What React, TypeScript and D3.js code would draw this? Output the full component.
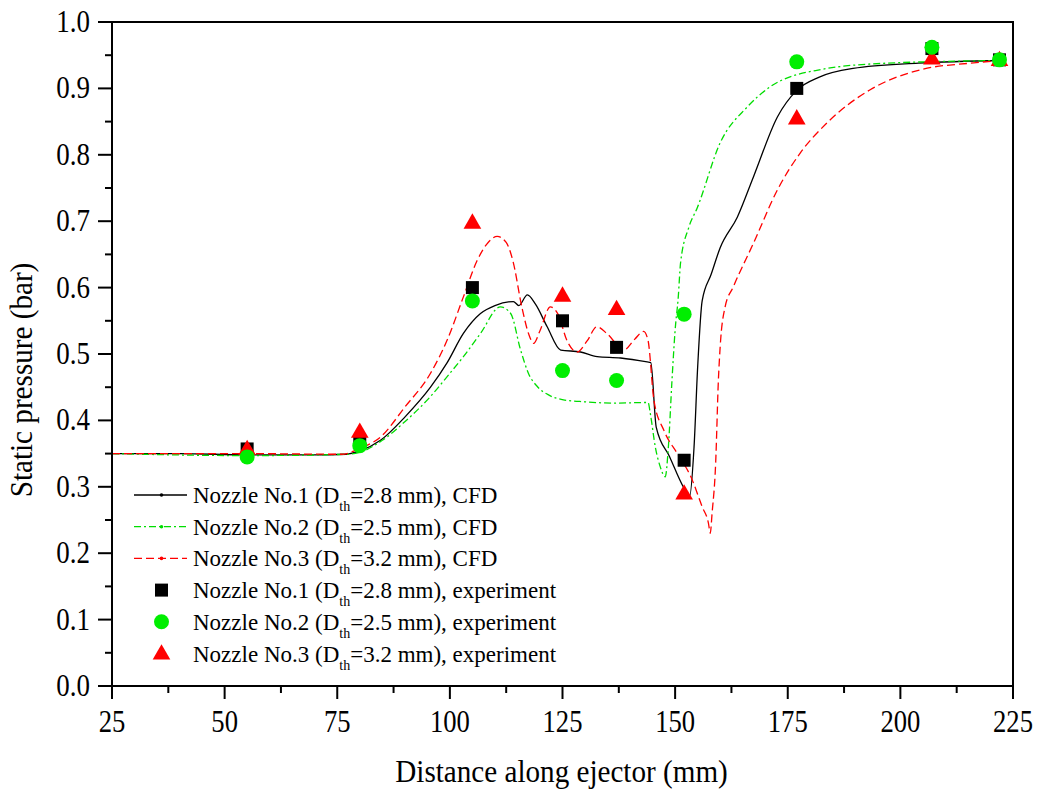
import React from 'react';
import * as d3 from 'd3';

// CFD curves: [distance mm, static pressure bar]
const cfdNozzle1: [number, number][] = [
  [25, 0.350], [40, 0.350], [55, 0.348], [70, 0.348], [77, 0.349], [80, 0.354],
  [84.6, 0.370], [90, 0.405], [95.7, 0.450], [99.4, 0.487], [103, 0.531],
  [106.8, 0.561], [110, 0.573], [114.1, 0.579], [115.3, 0.573], [117.2, 0.589],
  [119, 0.575], [121.6, 0.541], [124.6, 0.506], [129, 0.503], [132.7, 0.496],
  [137.9, 0.494], [143.8, 0.488], [144.6, 0.487], [145.8, 0.390], [148.8, 0.345],
  [151.8, 0.300], [153.2, 0.285], [154.2, 0.360], [155, 0.480], [156, 0.580],
  [158, 0.620], [160, 0.660], [163.8, 0.706], [167.4, 0.767], [172.7, 0.857],
  [177, 0.897], [182, 0.917], [189.5, 0.930], [204, 0.938], [222.8, 0.942],
];

const cfdNozzle2: [number, number][] = [
  [25, 0.350], [55, 0.347], [77, 0.349], [80, 0.352], [85, 0.370], [90, 0.398],
  [95.7, 0.436], [99.4, 0.466], [103, 0.496], [106.8, 0.531], [111.2, 0.571],
  [113.5, 0.561], [115.7, 0.506], [117.5, 0.470], [119.4, 0.451], [122, 0.438],
  [125.2, 0.431], [130, 0.428], [136.3, 0.426], [144, 0.427], [144.5, 0.410],
  [145.6, 0.360], [146.7, 0.330], [147.8, 0.315], [148.5, 0.360], [149.3, 0.460],
  [150, 0.536], [150.7, 0.586], [151.2, 0.637], [153, 0.690], [154.9, 0.720],
  [160, 0.818], [166, 0.872], [171, 0.902], [182, 0.928], [197, 0.938], [222.8, 0.942],
];

const cfdNozzle3: [number, number][] = [
  [25, 0.350], [55, 0.350], [76, 0.349], [80, 0.358], [84.6, 0.375], [90, 0.420],
  [95.7, 0.471], [99.4, 0.521], [103, 0.586], [106, 0.640], [108.5, 0.668],
  [110.5, 0.677], [112.5, 0.668], [114, 0.640], [116, 0.570], [117.5, 0.530],
  [118.6, 0.516], [120, 0.535], [122.3, 0.571], [124, 0.560], [126, 0.520],
  [128.2, 0.503], [130.5, 0.520], [132.6, 0.541], [135, 0.530], [138.6, 0.506],
  [141, 0.522], [143, 0.534], [144, 0.520], [145.3, 0.430], [147.5, 0.385],
  [150.5, 0.350], [153.5, 0.315], [156, 0.270], [157.4, 0.245], [157.8, 0.230],
  [158.2, 0.260], [159, 0.336], [159.6, 0.460], [160, 0.511], [161.1, 0.571],
  [162.9, 0.601], [167.4, 0.667], [172.7, 0.747], [177.8, 0.803], [183.7, 0.848],
  [193.3, 0.898], [204.4, 0.928], [215.5, 0.938], [222.8, 0.942],
];

// experiment points
const expX = [55, 80, 105, 125, 137, 152, 177, 207, 222];
const expNozzle1 = [0.357, 0.367, 0.600, 0.550, 0.510, 0.340, 0.900, 0.960, 0.943];
const expNozzle2 = [0.345, 0.362, 0.580, 0.475, 0.460, 0.560, 0.940, 0.962, 0.943];
const expNozzle3 = [0.357, 0.383, 0.698, 0.588, 0.568, 0.290, 0.855, 0.945, 0.943];

const xTicks = [25, 50, 75, 100, 125, 150, 175, 200, 225];
const yTicks = [0, 0.1, 0.2, 0.3, 0.4, 0.5, 0.6, 0.7, 0.8, 0.9, 1.0];

const legendNames = [
  { d: '2.8', kind: 'CFD' },
  { d: '2.5', kind: 'CFD' },
  { d: '3.2', kind: 'CFD' },
  { d: '2.8', kind: 'experiment' },
  { d: '2.5', kind: 'experiment' },
  { d: '3.2', kind: 'experiment' },
];

const W = 1040, H = 791;
const left = 112, right = 1013, top = 22, bottom = 686;
const font = 'Liberation Serif, Tinos, Times New Roman, serif';

export default function App() {
  const x = d3.scaleLinear().domain([25, 225]).range([left, right]);
  const y = d3.scaleLinear().domain([0, 1]).range([bottom, top]);
  const line = d3.line<[number, number]>()
    .x(d => x(d[0]))
    .y(d => y(d[1]))
    .curve(d3.curveMonotoneX);

  const xMinor = d3.range(37.5, 225, 25);
  const yMinor = d3.range(0.05, 1, 0.1);
  const tri = d3.symbol().type(d3.symbolTriangle).size(135)();

  const styles = [
    { stroke: '#000000', dash: undefined as string | undefined },
    { stroke: '#00dd00', dash: '7,3,2,3' },
    { stroke: '#ff0000', dash: '8,4' },
  ];
  const curves = [cfdNozzle1, cfdNozzle2, cfdNozzle3];
  const txt = { fontFamily: font } as React.CSSProperties;

  return (
    <svg width={W} height={H} style={{ position: 'absolute', left: 0, top: 0, background: '#fff' }}>
      <rect x={0} y={0} width={W} height={H} fill="#fff" />

      {curves.map((c, i) => (
        <path key={i} d={line(c) || ''} fill="none" stroke={styles[i].stroke}
          strokeWidth={1.3} strokeDasharray={styles[i].dash} />
      ))}

      {expX.map((v, i) => (
        <rect key={'s' + i} x={x(v) - 6.5} y={y(expNozzle1[i]) - 6.5} width={13} height={13} fill="#000" />
      ))}
      {expX.map((v, i) => (
        <path key={'t' + i} d={tri || ''} transform={`translate(${x(v)},${y(expNozzle3[i]) + 1})`} fill="#ff0000" />
      ))}
      {expX.map((v, i) => (
        <circle key={'c' + i} cx={x(v)} cy={y(expNozzle2[i])} r={7.5} fill="#00ee00" />
      ))}

      {/* frame */}
      <rect x={left} y={top} width={right - left} height={bottom - top} fill="none" stroke="#000" strokeWidth={2} />

      {/* x axis */}
      {xTicks.map(t => (
        <g key={'xt' + t}>
          <line x1={x(t)} x2={x(t)} y1={bottom} y2={bottom + 13} stroke="#000" strokeWidth={2} />
          <text transform={`translate(${x(t)},${bottom + 46}) scale(0.86,1)`} fontSize={31}
            textAnchor="middle" style={txt}>{t}</text>
        </g>
      ))}
      {xMinor.map(t => (
        <line key={'xm' + t} x1={x(t)} x2={x(t)} y1={bottom} y2={bottom + 7} stroke="#000" strokeWidth={2} />
      ))}
      <text transform={`translate(${(left + right) / 2 - 1},782) scale(0.94,1)`} fontSize={31}
        textAnchor="middle" style={txt}>Distance along ejector (mm)</text>

      {/* y axis */}
      {yTicks.map(t => (
        <g key={'yt' + t}>
          <line x1={left - 14} x2={left} y1={y(t)} y2={y(t)} stroke="#000" strokeWidth={2} />
          <text transform={`translate(${left - 22},${y(t) + 10}) scale(0.87,1)`} fontSize={31}
            textAnchor="end" style={txt}>{t.toFixed(1)}</text>
        </g>
      ))}
      {yMinor.map(t => (
        <line key={'ym' + t} x1={left - 7} x2={left} y1={y(t)} y2={y(t)} stroke="#000" strokeWidth={2} />
      ))}
      <text transform={`translate(32,${(top + bottom) / 2 + 26}) rotate(-90) scale(0.94,1)`} fontSize={31}
        textAnchor="middle" style={txt}>
        Static pressure (bar)
      </text>

      {/* legend */}
      {legendNames.map((l, i) => {
        const cy = 495 + i * 31.7;
        const n = (i % 3) + 1;
        let sample: React.ReactNode;
        if (i < 3) {
          sample = (
            <g>
              <line x1={134} x2={187} y1={cy} y2={cy} stroke={styles[i].stroke} strokeWidth={1.3}
                strokeDasharray={styles[i].dash} />
              <circle cx={161.5} cy={cy} r={1.8} fill={styles[i].stroke} />
            </g>
          );
        } else if (i === 3) {
          sample = <rect x={155} y={cy - 6.5} width={13} height={13} fill="#000" />;
        } else if (i === 4) {
          sample = <circle cx={161.5} cy={cy} r={7.5} fill="#00ee00" />;
        } else {
          sample = <path d={tri || ''} transform={`translate(161.5,${cy + 1})`} fill="#ff0000" />;
        }
        return (
          <g key={'lg' + i}>
            {sample}
            <text x={193} y={cy + 8} fontSize={23} style={txt}>
              {`Nozzle No.${n} (D`}
              <tspan fontSize={14} dy={8}>th</tspan>
              <tspan dy={-8}>{`=${l.d} mm), ${l.kind}`}</tspan>
            </text>
          </g>
        );
      })}
    </svg>
  );
}
